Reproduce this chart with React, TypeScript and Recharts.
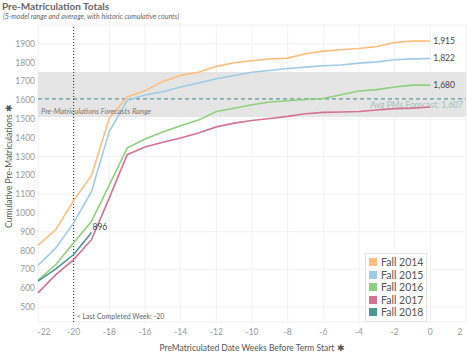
import { LineChart, Line, XAxis, YAxis, CartesianGrid, ReferenceArea, ReferenceLine, LabelList } from 'recharts'

const weeks = [-22, -21, -20, -19, -18, -17, -16, -15, -14, -13, -12, -11, -10, -9, -8, -7, -6, -5, -4, -3, -2, -1, 0]

const fall2014 = [828, 912, 1067, 1200, 1505, 1617, 1650, 1700, 1732, 1749, 1780, 1799, 1810, 1819, 1824, 1847, 1861, 1868, 1875, 1886, 1907, 1914, 1915]
const fall2015 = [722, 814, 947, 1115, 1434, 1599, 1628, 1645, 1670, 1691, 1714, 1731, 1749, 1758, 1769, 1776, 1783, 1787, 1797, 1804, 1815, 1820, 1822]
const fall2016 = [642, 726, 841, 956, 1150, 1345, 1393, 1431, 1464, 1494, 1540, 1557, 1576, 1590, 1597, 1604, 1609, 1629, 1649, 1656, 1670, 1680, 1680]
const fall2017 = [575, 672, 752, 858, 1080, 1310, 1351, 1376, 1399, 1425, 1458, 1478, 1492, 1503, 1514, 1528, 1535, 1537, 1540, 1548, 1555, 1558, 1564]
const fall2018 = [637, 703, 779, 896]

const xTicks = [-22, -20, -18, -16, -14, -12, -10, -8, -6, -4, -2, 0, 2]
const yTicks = [500, 600, 700, 800, 900, 1000, 1100, 1200, 1300, 1400, 1500, 1600, 1700, 1800, 1900]

const forecastLow = 1510
const forecastHigh = 1750
const avgForecast = 1607
const lastWeek = -20

const series = [
  { key: 'Fall 2014', values: fall2014, color: '#FFBE7D' },
  { key: 'Fall 2015', values: fall2015, color: '#A0CBE8' },
  { key: 'Fall 2016', values: fall2016, color: '#8CD17D' },
  { key: 'Fall 2017', values: fall2017, color: '#D37295' },
  { key: 'Fall 2018', values: fall2018, color: '#499894' },
]

const data = weeks.map((w, i) => {
  const row: Record<string, number | undefined> = { week: w }
  series.forEach((s) => {
    row[s.key] = s.values[i]
  })
  return row
})

const font = 'Lato, "Open Sans", sans-serif'
const fmt = (v: number) => v.toLocaleString('en-US')

const XTick = (props: any) => {
  const { x, y, payload } = props
  let dx = 0
  if (payload.value === -22) dx = 6
  if (payload.value === 2) dx = -4
  return (
    <text x={x + dx} y={y} dy={8} textAnchor="middle" fontSize={8.5} fill="#999" fontFamily={font}>
      {payload.value}
    </text>
  )
}

const endLabel = (lastIndex: number, above = false) => (props: any) => {
  const { x, y, index, value } = props
  if (index !== lastIndex || value == null) return null
  return (
    <text x={above ? x + 1 : x + 3} y={above ? y - 6 : y} dy={3} fontSize={8.5} fill="#444" fontFamily={font}>
      {fmt(value)}
    </text>
  )
}

const avgLabel = (props: any) => {
  const { viewBox } = props
  return (
    <text
      x={viewBox.x + viewBox.width - 3}
      y={viewBox.y + 9}
      textAnchor="end"
      fontSize={8.5}
      fill="#9cc2c0"
      fontFamily={font}
    >
      {`Avg PMs Forecast: ${fmt(avgForecast)}`}
    </text>
  )
}

const yTitle = () => (
  <text
    x={9}
    y={166}
    transform="rotate(-90, 9, 166)"
    textAnchor="middle"
    dominantBaseline="central"
    fontSize={8.5}
    fill="#555"
    fontFamily={font}
  >
    Cumulative Pre-Matriculations {'\u2731'}
  </text>
)

export default function App() {
  return (
    <div style={{ position: 'absolute', left: 0, top: 0, width: 468, height: 354, background: '#fff', fontFamily: font }}>
      <div style={{ position: 'absolute', left: 2, top: 0, fontSize: 10, fontWeight: 700, color: '#666' }}>
        Pre-Matriculation Totals
      </div>
      <div style={{ position: 'absolute', left: 3, top: 12, fontSize: 7, fontStyle: 'italic', color: '#666' }}>
        (5-model range and average, with historic cumulative counts)
      </div>
      <LineChart width={468} height={354} data={data} margin={{ top: 25, right: 2, bottom: 0, left: 0 }}>
        <CartesianGrid stroke="#f1f1f1" strokeWidth={1} verticalValues={xTicks} />
        <ReferenceArea
          y1={forecastLow}
          y2={forecastHigh}
          fill="#e5e5e5"
          fillOpacity={1}
          stroke="none"
          label={{
            value: 'Pre-Matriculations Forecasts Range',
            position: 'insideBottomLeft',
            offset: 3,
            fontSize: 7.5,
            fontStyle: 'italic',
            fill: '#777',
            fontFamily: font,
          }}
        />
        <ReferenceLine y={avgForecast} stroke="#5f9a98" strokeWidth={1.2} strokeDasharray="4 3" label={avgLabel} />
        <ReferenceLine
          x={lastWeek}
          stroke="#222"
          strokeWidth={1}
          strokeDasharray="1 2"
          label={{
            value: `< Last Completed Week: ${lastWeek}`,
            position: 'insideBottomLeft',
            offset: 3,
            fontSize: 7,
            fill: '#666',
            fontFamily: font,
          }}
        />
        <XAxis
          dataKey="week"
          type="number"
          domain={[-22, 2]}
          ticks={xTicks}
          axisLine={false}
          tickLine={false}
          tickSize={0}
          tickMargin={5}
          height={32}
          tick={<XTick />}
          label={{
            value: 'PreMatriculated Date Weeks Before Term Start \u2731',
            position: 'insideBottom',
            offset: 3,
            fontSize: 8.5,
            fill: '#555',
            fontFamily: font,
          }}
        />
        <YAxis
          type="number"
          domain={[420, 2000]}
          ticks={yTicks}
          allowDataOverflow
          axisLine={false}
          tickLine={false}
          tickSize={0}
          tickMargin={3}
          width={38}
          tick={{ fontSize: 8.5, fill: '#999', fontFamily: font }}
          label={yTitle}
        />
        {series.map((s) => (
          <Line
            key={s.key}
            dataKey={s.key}
            stroke={s.color}
            strokeWidth={1.6}
            dot={false}
            activeDot={false}
            connectNulls={false}
            isAnimationActive={false}
          >
            {s.key !== 'Fall 2017' && (
              <LabelList dataKey={s.key} content={endLabel(s.values.length - 1, s.key === 'Fall 2018')} />
            )}
          </Line>
        ))}
      </LineChart>
      <div
        style={{
          position: 'absolute',
          left: 365,
          top: 253,
          border: '1px solid #e2e2e2',
          background: '#fff',
          padding: '2px 3px',
          fontSize: 10.5,
          color: '#555',
          lineHeight: '12.5px',
        }}
      >
        {series.map((s) => (
          <div key={s.key} style={{ display: 'flex', alignItems: 'center' }}>
            <span style={{ width: 8, height: 8, background: s.color, display: 'inline-block', marginRight: 4 }} />
            {s.key}
          </div>
        ))}
      </div>
    </div>
  )
}
